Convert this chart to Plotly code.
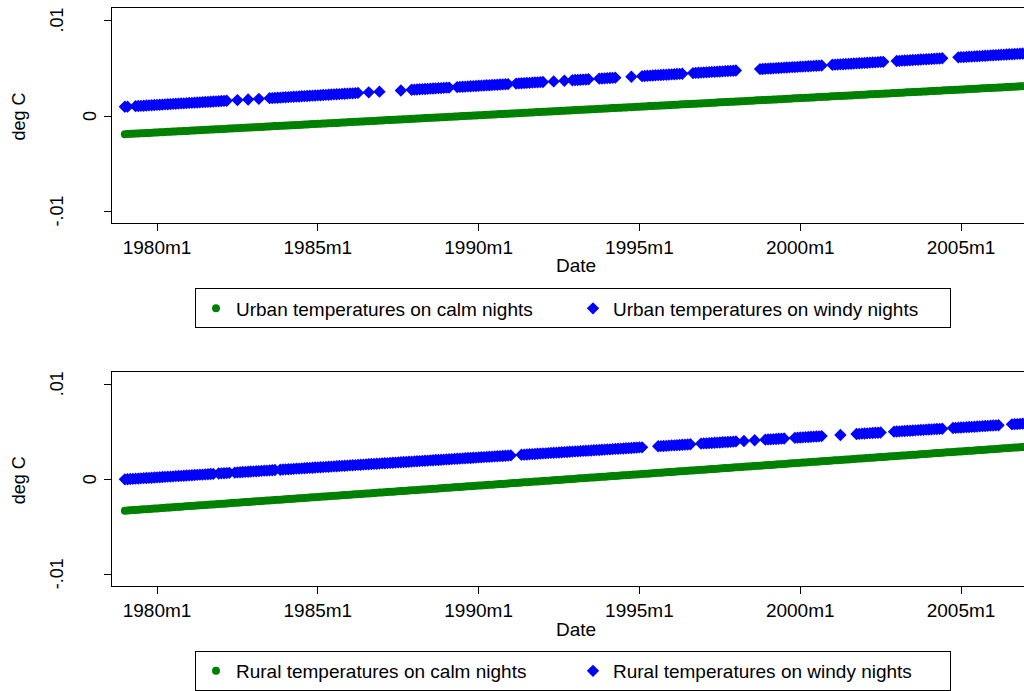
import plotly.graph_objects as go

# Stata %tm monthly dates: 228 = 1979m1 ... 566 = 2007m3
MONTHS = list(range(228, 567))

# Series values, in 1e-5 deg C, one row per year (Jan..Dec); None = no observation
URBAN_CALM = [
    -190, -189, -187, -186, -184, -183, -181, -180, -178, -177, -175, -174,
    -172, -171, -169, -168, -166, -165, -163, -162, -160, -159, -157, -156,
    -154, -153, -151, -150, -148, -147, -145, -144, -142, -141, -139, -138,
    -136, -135, -133, -132, -130, -129, -127, -126, -124, -123, -121, -120,
    -118, -117, -115, -114, -112, -111, -109, -108, -106, -105, -103, -102,
    -100, -99, -97, -96, -94, -93, -91, -90, -88, -87, -85, -84,
    -82, -81, -79, -78, -76, -75, -73, -72, -70, -69, -67, -66,
    -64, -63, -61, -60, -58, -57, -55, -54, -52, -51, -49, -48,
    -46, -45, -43, -42, -40, -39, -37, -36, -34, -33, -31, -30,
    -28, -27, -25, -24, -22, -21, -19, -18, -16, -15, -13, -12,
    -10, -9, -7, -6, -4, -3, -1, 0, 2, 3, 5, 6,
    8, 9, 11, 12, 14, 15, 17, 18, 20, 21, 23, 24,
    26, 27, 29, 30, 32, 33, 35, 36, 38, 39, 41, 42,
    44, 45, 47, 48, 50, 51, 53, 54, 56, 57, 59, 60,
    62, 63, 65, 66, 68, 69, 71, 72, 74, 75, 77, 78,
    80, 81, 83, 84, 86, 87, 89, 90, 92, 93, 95, 96,
    98, 99, 101, 102, 104, 105, 107, 108, 110, 111, 113, 114,
    116, 117, 119, 120, 122, 123, 125, 126, 128, 129, 131, 132,
    134, 135, 137, 138, 140, 141, 143, 144, 146, 147, 149, 150,
    152, 153, 155, 156, 158, 159, 161, 162, 164, 165, 167, 168,
    170, 171, 173, 174, 176, 177, 179, 180, 182, 183, 185, 186,
    188, 189, 191, 192, 194, 195, 197, 198, 200, 201, 203, 204,
    206, 207, 209, 210, 212, 213, 215, 216, 218, 219, 221, 222,
    224, 225, 227, 228, 230, 231, 233, 234, 236, 237, 239, 240,
    242, 243, 245, 246, 248, 249, 251, 252, 254, 255, 257, 258,
    260, 261, 263, 264, 266, 267, 269, 270, 272, 273, 275, 276,
    278, 279, 281, 282, 284, 285, 287, 288, 290, 291, 293, 294,
    296, 297, 299, 300, 302, 303, 305, 306, 308, 309, 311, 312,
    314, 315, 317,
]

N = None
URBAN_WINDY = [
    97, 98, N, N, 103, 105, 107, 108, 110, 112, 113, 115,
    117, 118, 120, 122, 123, 125, 127, 128, 130, 132, 133, 135,
    137, 138, 140, 142, 143, 145, 147, 148, 150, 152, 153, 155,
    157, 158, 160, N, N, N, 167, N, N, N, 173, N,
    N, N, 180, N, N, N, 187, 188, 190, 192, 193, 195,
    197, 198, 200, 202, 203, 205, 207, 208, 210, 212, 213, 215,
    217, 218, 220, 222, 223, 225, 227, 228, 230, 232, 233, 235,
    237, 238, 240, 242, N, N, N, 248, N, N, N, 255,
    N, N, N, N, N, N, N, 268, N, N, N, 275,
    277, 278, 280, 282, 283, 285, 287, 288, 290, 292, 293, 295,
    297, 298, N, N, 303, 305, 307, 308, 310, 312, 313, 315,
    317, 318, 320, 322, 323, 325, 327, 328, 330, 332, 333, 335,
    N, N, 340, 342, 343, 345, 347, 348, 350, 352, 353, 355,
    357, N, N, N, 363, N, N, N, 370, N, N, 375,
    377, 378, 380, 382, 383, 385, N, N, N, 392, 393, 395,
    397, 398, 400, 402, N, N, N, N, N, 412, N, N,
    N, 418, 420, 422, 423, 425, 427, 428, 430, 432, 433, 435,
    437, 438, 440, 442, 443, N, N, N, 450, 452, 453, 455,
    457, 458, 460, 462, 463, 465, 467, 468, 470, 472, 473, 475,
    477, N, N, N, N, N, N, N, N, 492, 493, 495,
    497, 498, 500, 502, 503, 505, 507, 508, 510, 512, 513, 515,
    517, 518, 520, 522, 523, 525, 527, 528, 530, N, N, N,
    537, 538, 540, 542, 543, 545, 547, 548, 550, 552, 553, 555,
    557, 558, 560, 562, 563, 565, 567, 568, N, N, N, N,
    577, 578, 580, 582, 583, 585, 587, 588, 590, 592, 593, 595,
    597, 598, 600, 602, 603, 605, N, N, N, N, N, 615,
    617, 618, 620, 622, 623, 625, 627, 628, 630, 632, 633, 635,
    637, 638, 640, 642, 643, 645, 647, 648, 650, 652, 653, 655,
    657, 658, 660,
]

RURAL_CALM = [
    -330, -328, -326, -324, -322, -320, -318, -316, -314, -312, -310, -308,
    -306, -304, -302, -300, -298, -296, -294, -292, -290, -288, -286, -284,
    -282, -280, -278, -276, -274, -272, -270, -268, -266, -264, -262, -260,
    -258, -256, -254, -252, -250, -248, -246, -244, -242, -240, -238, -236,
    -234, -232, -230, -228, -226, -224, -222, -220, -218, -216, -214, -212,
    -210, -208, -206, -204, -202, -200, -198, -196, -194, -192, -190, -188,
    -186, -184, -182, -180, -178, -176, -174, -172, -170, -168, -166, -164,
    -162, -160, -158, -156, -154, -152, -150, -148, -146, -144, -142, -140,
    -138, -136, -134, -132, -130, -128, -126, -124, -122, -120, -118, -116,
    -114, -112, -110, -108, -106, -104, -102, -100, -98, -96, -94, -92,
    -90, -88, -86, -84, -82, -80, -78, -76, -74, -72, -70, -68,
    -66, -64, -62, -60, -58, -56, -54, -52, -50, -48, -46, -44,
    -42, -40, -38, -36, -34, -32, -30, -28, -26, -24, -22, -20,
    -18, -16, -14, -12, -10, -8, -6, -4, -2, 0, 2, 4,
    6, 8, 10, 12, 14, 16, 18, 20, 22, 24, 26, 28,
    30, 32, 34, 36, 38, 40, 42, 44, 46, 48, 50, 52,
    54, 56, 58, 60, 62, 64, 66, 68, 70, 72, 74, 76,
    78, 80, 82, 84, 86, 88, 90, 92, 94, 96, 98, 100,
    102, 104, 106, 108, 110, 112, 114, 116, 118, 120, 122, 124,
    126, 128, 130, 132, 134, 136, 138, 140, 142, 144, 146, 148,
    150, 152, 154, 156, 158, 160, 162, 164, 166, 168, 170, 172,
    174, 176, 178, 180, 182, 184, 186, 188, 190, 192, 194, 196,
    198, 200, 202, 204, 206, 208, 210, 212, 214, 216, 218, 220,
    222, 224, 226, 228, 230, 232, 234, 236, 238, 240, 242, 244,
    246, 248, 250, 252, 254, 256, 258, 260, 262, 264, 266, 268,
    270, 272, 274, 276, 278, 280, 282, 284, 286, 288, 290, 292,
    294, 296, 298, 300, 302, 304, 306, 308, 310, 312, 314, 316,
    318, 320, 322, 324, 326, 328, 330, 332, 334, 336, 338, 340,
    342, 344, 346,
]

RURAL_WINDY = [
    0, 1, 3, 5, 7, 8, 10, 12, 14, 15, 17, 19,
    21, 22, 24, 26, 28, 29, 31, 33, 35, 36, 38, 40,
    42, 43, 45, 47, 49, 50, 52, 54, 56, 57, N, 61,
    63, 64, 66, 68, N, 71, 73, 75, 77, 78, 80, 82,
    84, 85, 87, 89, 91, 92, 94, 96, 98, N, 101, 103,
    105, 106, 108, 110, 112, 113, 115, 117, 119, 120, 122, 124,
    126, 127, 129, 131, 133, 134, 136, 138, 140, 141, 143, 145,
    147, 148, 150, 152, 154, 155, 157, 159, 161, 162, 164, 166,
    168, 169, 171, 173, 175, 176, 178, 180, 182, 183, 185, 187,
    189, 190, 192, 194, 196, 197, 199, 201, 203, 204, 206, 208,
    210, 211, 213, 215, 217, 218, 220, 222, 224, 225, 227, 229,
    231, 232, 234, 236, 238, 239, 241, 243, 245, 246, 248, 250,
    252, N, N, N, 259, 260, 262, 264, 266, 267, 269, 271,
    273, 274, 276, 278, 280, 281, 283, 285, 287, 288, 290, 292,
    294, 295, 297, 299, 301, 302, 304, 306, 308, 309, 311, 313,
    315, 316, 318, 320, 322, 323, 325, 327, 329, 330, 332, 334,
    336, 337, N, N, N, N, N, 348, 350, 351, 353, 355,
    357, 358, 360, 362, 364, 365, 367, 369, N, N, N, 376,
    378, 379, 381, 383, 385, 386, 388, 390, 392, 393, 395, 397,
    399, N, N, 404, N, N, N, 411, N, N, N, 418,
    420, 421, 423, 425, 427, 428, 430, N, N, N, 437, 439,
    441, 442, 444, 446, 448, 449, 451, 453, 455, N, N, N,
    N, N, N, 467, N, N, N, N, N, 477, 479, 481,
    483, 484, 486, 488, 490, 491, 493, N, N, N, N, 502,
    504, 505, 507, 509, 511, 512, 514, 516, 518, 519, 521, 523,
    525, 526, 528, 530, 532, 533, N, N, N, 540, 542, 544,
    546, 547, 549, 551, 553, 554, 556, 558, 560, 561, 563, 565,
    567, 568, 570, N, N, N, N, 579, 581, 582, 584, 586,
    588, 589, 591,
]

TICK_MONTHS = [240, 300, 360, 420, 480, 540]
TICK_LABELS = ["1980m1", "1985m1", "1990m1", "1995m1", "2000m1", "2005m1"]
Y_TICKS = [-0.01, 0, 0.01]
Y_LABELS = ["-.01", "0", ".01"]

LEGEND_TOP = ["Urban temperatures on calm nights", "Urban temperatures on windy nights"]
LEGEND_BOTTOM = ["Rural temperatures on calm nights", "Rural temperatures on windy nights"]

GREEN = "#008000"
BLUE = "#0000ff"
FONT = "Liberation Sans, Arial, sans-serif"

W, H = 1024, 691


def px(x):
    """window x pixel -> paper fraction"""
    return x / W


def py(y):
    """window y pixel -> paper fraction"""
    return 1 - y / H


def degc(vals):
    return [None if v is None else v / 1e5 for v in vals]


fig = go.Figure()

fig.add_trace(go.Scatter(x=MONTHS, y=degc(URBAN_CALM), mode="markers", name=LEGEND_TOP[0],
                         marker=dict(symbol="circle", size=8, color=GREEN),
                         xaxis="x", yaxis="y", legend="legend"))
fig.add_trace(go.Scatter(x=MONTHS, y=degc(URBAN_WINDY), mode="markers", name=LEGEND_TOP[1],
                         marker=dict(symbol="diamond", size=9.5, color=BLUE),
                         xaxis="x", yaxis="y", legend="legend"))
fig.add_trace(go.Scatter(x=MONTHS, y=degc(RURAL_CALM), mode="markers", name=LEGEND_BOTTOM[0],
                         marker=dict(symbol="circle", size=8, color=GREEN),
                         xaxis="x2", yaxis="y2", legend="legend2"))
fig.add_trace(go.Scatter(x=MONTHS, y=degc(RURAL_WINDY), mode="markers", name=LEGEND_BOTTOM[1],
                         marker=dict(symbol="diamond", size=9.5, color=BLUE),
                         xaxis="x2", yaxis="y2", legend="legend2"))

XRANGE = [223.2, 563.5]
YRANGE = [-0.01122, 0.01133]


def xaxis(anchor):
    return dict(domain=[px(112), 1.0], range=XRANGE, anchor=anchor,
                tickmode="array", tickvals=TICK_MONTHS, ticktext=TICK_LABELS,
                ticks="outside", ticklen=7, tickwidth=1, tickcolor="black",
                showline=True, linecolor="black", linewidth=1, mirror=True,
                showgrid=False, zeroline=False,
                tickfont=dict(family=FONT, size=19, color="black"))


def yaxis(anchor, dom):
    return dict(domain=dom, range=YRANGE, anchor=anchor,
                tickmode="array", tickvals=Y_TICKS, showticklabels=False,
                ticks="outside", ticklen=7, tickwidth=1, tickcolor="black",
                showline=True, linecolor="black", linewidth=1, mirror=False,
                showgrid=False, zeroline=False)


TOP_DOM = [py(225), py(8)]
BOT_DOM = [py(591), py(375)]

annotations = []
for yref, title_y, date_y in (("y", 118, 268), ("y2", 485, 635)):
    for val, lab in zip(Y_TICKS, Y_LABELS):
        cx = 90 if lab == "0" else 57
        annotations.append(dict(text=lab, x=px(cx), xref="paper", y=val, yref=yref,
                                xanchor="center", yanchor="middle", textangle=-90,
                                showarrow=False, font=dict(family=FONT, size=18, color="black")))
    annotations.append(dict(text="deg C", x=px(18.5), xref="paper", y=py(title_y), yref="paper",
                            xanchor="center", yanchor="middle", textangle=-90, showarrow=False,
                            font=dict(family=FONT, size=18, color="black")))
    annotations.append(dict(text="Date", x=px(576), xref="paper", y=py(date_y), yref="paper",
                            xanchor="center", yanchor="middle", showarrow=False,
                            font=dict(family=FONT, size=19, color="black")))


def legend(ytop):
    return dict(orientation="h", x=px(573), xanchor="center", y=py(ytop), yanchor="top",
                bordercolor="black", borderwidth=1, bgcolor="white",
                font=dict(family=FONT, size=19, color="black"),
                entrywidth=332, entrywidthmode="pixels", itemwidth=30)


fig.update_layout(
    width=W, height=H,
    margin=dict(l=0, r=0, t=0, b=0),
    paper_bgcolor="white", plot_bgcolor="white",
    showlegend=True,
    xaxis=xaxis("y"), yaxis=yaxis("x", TOP_DOM),
    xaxis2=xaxis("y2"), yaxis2=yaxis("x2", BOT_DOM),
    legend=legend(291), legend2=legend(657),
    annotations=annotations,
    font=dict(family=FONT, color="black"),
)

# remove the default 8px page margin so the 1024x691 figure fills the window exactly
fig.write_html("out.html", config={"displayModeBar": False},
               post_script="document.body.style.margin='0px';")
